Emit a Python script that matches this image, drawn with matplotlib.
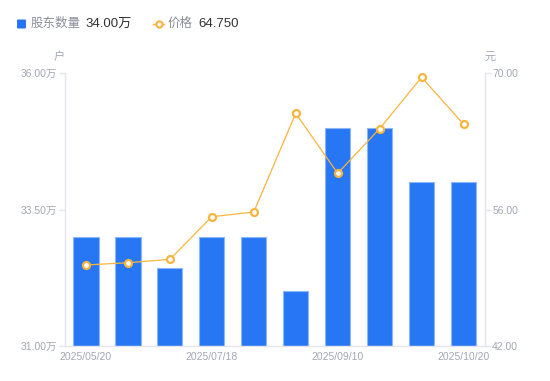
import matplotlib
matplotlib.use("Agg")
import matplotlib.pyplot as plt
from matplotlib.lines import Line2D
import numpy as np

# Data
holders = [33.00, 33.00, 32.42, 33.00, 33.00, 32.00, 35.00, 35.00, 34.00, 34.00]  # 万户
price = [50.31, 50.54, 50.89, 55.26, 55.74, 65.86, 59.71, 64.29, 69.56, 64.75]     # 元
tick_pos = [0, 3, 6, 9]
tick_labels = ["2025/05/20", "2025/07/18", "2025/09/10", "2025/10/20"]
left_ticks = [31.0, 33.5, 36.0]
right_ticks = [42.0, 56.0, 70.0]

FONT = ["Liberation Sans", "Noto Sans CJK SC", "DejaVu Sans"]
plt.rcParams["font.family"] = FONT

BLUE = "#2777F4"
BLUE_EDGE = "#8DB6F8"
ORANGE = "#F8B53E"
GREY = "#A3A7B3"
AXIS = "#E3E5EA"

fig = plt.figure(figsize=(5.5, 3.81), dpi=100)
ax = fig.add_axes([65 / 550, 35 / 381, 419.5 / 550, 273 / 381])
ax2 = ax.twinx()

x = np.arange(len(holders))
ax.bar(x, [h - 31.0 for h in holders], bottom=31.0, width=0.6, color=BLUE,
       edgecolor=BLUE_EDGE, linewidth=0.8, zorder=2)
ax.set_xlim(-0.5, len(holders) - 0.5)
ax.set_ylim(31.0, 36.0)
ax.set_yticks(left_ticks)
ax.set_yticklabels([f"{v:.2f}万" for v in left_ticks])
ax.set_xticks(tick_pos)
ax.set_xticklabels(tick_labels)

ax2.plot(x, price, color=ORANGE, linewidth=0.9, marker="o", markersize=5,
         markerfacecolor="white", markeredgecolor=ORANGE, markeredgewidth=1.6, zorder=3)
ax2.set_ylim(42.0, 70.0)
ax2.set_yticks(right_ticks)
ax2.set_yticklabels([f"{v:.2f}" for v in right_ticks])

for a in (ax, ax2):
    for s in a.spines.values():
        s.set_visible(False)
ax.spines["left"].set_visible(True)
ax.spines["bottom"].set_visible(True)
ax2.spines["right"].set_visible(True)
for s in (ax.spines["left"], ax.spines["bottom"], ax2.spines["right"]):
    s.set_color(AXIS)
    s.set_linewidth(1.0)

ax.tick_params(axis="y", colors=AXIS, labelcolor=GREY, labelsize=7.5, length=4, width=1, pad=1.5)
ax2.tick_params(axis="y", colors=AXIS, labelcolor=GREY, labelsize=7.5, length=4, width=1, pad=1.5)
ax.tick_params(axis="x", length=0, labelcolor=GREY, labelsize=7.5, pad=4)

# Unit labels
fig.text(59 / 550, 1 - 57 / 381, "户", color=GREY, fontsize=8, ha="center", va="center")
fig.text(490 / 550, 1 - 57 / 381, "元", color=GREY, fontsize=8, ha="center", va="center")

# Legend
fig.patches.append(matplotlib.patches.FancyBboxPatch(
    (17 / 550, 1 - 28.5 / 381), 9 / 550, 9 / 381, boxstyle="round,pad=0,rounding_size=0.002",
    transform=fig.transFigure, facecolor=BLUE, edgecolor="none"))
fig.text(31 / 550, 1 - 24 / 381, "股东数量", color="#8A8E99", fontsize=9, va="center", ha="left")
fig.text(85 / 550, 1 - 24 / 381, "34.00万", color="#333333", fontsize=9.5, va="center", ha="left")
fig.lines.append(Line2D([153 / 550, 164 / 550], [1 - 24 / 381, 1 - 24 / 381],
                        transform=fig.transFigure, color=ORANGE, linewidth=1.0))
fig.lines.append(Line2D([158.5 / 550], [1 - 24 / 381], transform=fig.transFigure,
                        marker="o", markersize=4.5, markerfacecolor="white",
                        markeredgecolor=ORANGE, markeredgewidth=1.5, linestyle="none"))
fig.text(168 / 550, 1 - 24 / 381, "价格", color="#8A8E99", fontsize=9, va="center", ha="left")
fig.text(198 / 550, 1 - 24 / 381, "64.750", color="#333333", fontsize=9.5, va="center", ha="left")

fig.savefig("out.png", dpi=100)
